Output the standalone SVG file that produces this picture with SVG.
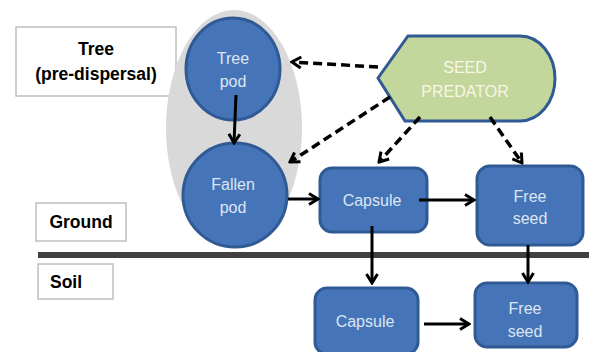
<svg xmlns="http://www.w3.org/2000/svg" width="589" height="352" viewBox="0 0 589 352">
<style>
.lbl{fill:#fff;stroke:#bfbfbf;stroke-width:1.5}
.lt{font-family:"Liberation Sans",Arial,sans-serif;font-weight:bold;fill:#000;font-size:17.5px;text-anchor:middle}
.node{fill:#4674b8;stroke:#2f5a94;stroke-width:3}
.nt{font-family:"Liberation Sans",Arial,sans-serif;fill:#dce6f2;font-size:16px;text-anchor:middle}
.pt{fill:#f7f7e8}
.c{fill:none;stroke:#000;stroke-width:3}
.d{fill:none;stroke:#000;stroke-width:3.5;stroke-dasharray:9 5}
</style>
<defs>
<marker id="ah" viewBox="0 0 14 14" refX="12" refY="7" markerWidth="14" markerHeight="14" orient="auto" markerUnits="userSpaceOnUse">
<path d="M3,1.5 L12,7 L3,12.5" fill="none" stroke="#000" stroke-width="3"/>
</marker>
</defs>
<g id="tree-label"><rect class="lbl" x="16" y="27" width="160" height="69"/><text class="lt" x="96" y="55">Tree</text><text class="lt" x="96" y="80">(pre-dispersal)</text></g>
<g id="ground-label"><rect class="lbl" x="36" y="203" width="90" height="38"/><text class="lt" x="81" y="228">Ground</text></g>
<g id="soil-label"><rect class="lbl" x="38" y="264" width="75" height="35"/><text class="lt" x="50" y="288" style="text-anchor:start">Soil</text></g>
<g id="ground-line"><rect x="38" y="252" width="551" height="6" fill="#404040"/></g>
<g id="pod-group"><ellipse cx="234" cy="128" rx="68" ry="118" fill="#d9d9d9"/></g>
<g id="tree-pod"><ellipse class="node" cx="233" cy="69" rx="47" ry="51"/><text class="nt" x="233" y="64">Tree</text><text class="nt" x="233" y="87">pod</text></g>
<g id="fallen-pod"><ellipse class="node" cx="235" cy="195" rx="52" ry="52"/><text class="nt" x="233" y="190">Fallen</text><text class="nt" x="233" y="213">pod</text></g>
<g id="seed-predator"><path d="M378,78 L408,36 L520,36 A35,42.5 0 0 1 520,121 L405,121 Z" fill="#c3d69b" stroke="#2f5a94" stroke-width="3"/><text class="nt pt" x="465" y="73">SEED</text><text class="nt pt" x="465" y="97">PREDATOR</text></g>
<g id="capsule-top"><rect class="node" x="320" y="168" width="107" height="64" rx="12"/><text class="nt" x="372" y="206">Capsule</text></g>
<g id="free-seed-top"><rect class="node" x="477" y="166" width="106" height="79" rx="13"/><text class="nt" x="530" y="202">Free</text><text class="nt" x="530" y="224">seed</text></g>
<g id="capsule-bottom"><rect class="node" x="315" y="288" width="103" height="66" rx="12"/><text class="nt" x="365" y="327">Capsule</text></g>
<g id="free-seed-bottom"><rect class="node" x="475" y="283" width="102" height="64" rx="12"/><text class="nt" x="525" y="314">Free</text><text class="nt" x="525" y="337">seed</text></g>
<g id="connectors">
<line class="c" x1="236" y1="95" x2="234" y2="143" marker-end="url(#ah)"/>
<line class="c" x1="288" y1="199" x2="318" y2="199" marker-end="url(#ah)"/>
<line class="c" x1="419" y1="200" x2="474" y2="200" marker-end="url(#ah)"/>
<line class="c" x1="372" y1="226" x2="372" y2="283" marker-end="url(#ah)"/>
<line class="c" x1="528" y1="245" x2="528" y2="282" marker-end="url(#ah)"/>
<line class="c" x1="424" y1="324" x2="469" y2="324" marker-end="url(#ah)"/>
<line class="d" x1="378" y1="67" x2="292" y2="62" marker-end="url(#ah)"/>
<line class="d" x1="390" y1="97" x2="290" y2="162" marker-end="url(#ah)"/>
<line class="d" x1="420" y1="117" x2="379" y2="162" marker-end="url(#ah)"/>
<line class="d" x1="490" y1="117" x2="522" y2="163" marker-end="url(#ah)"/>
</g>
</svg>
